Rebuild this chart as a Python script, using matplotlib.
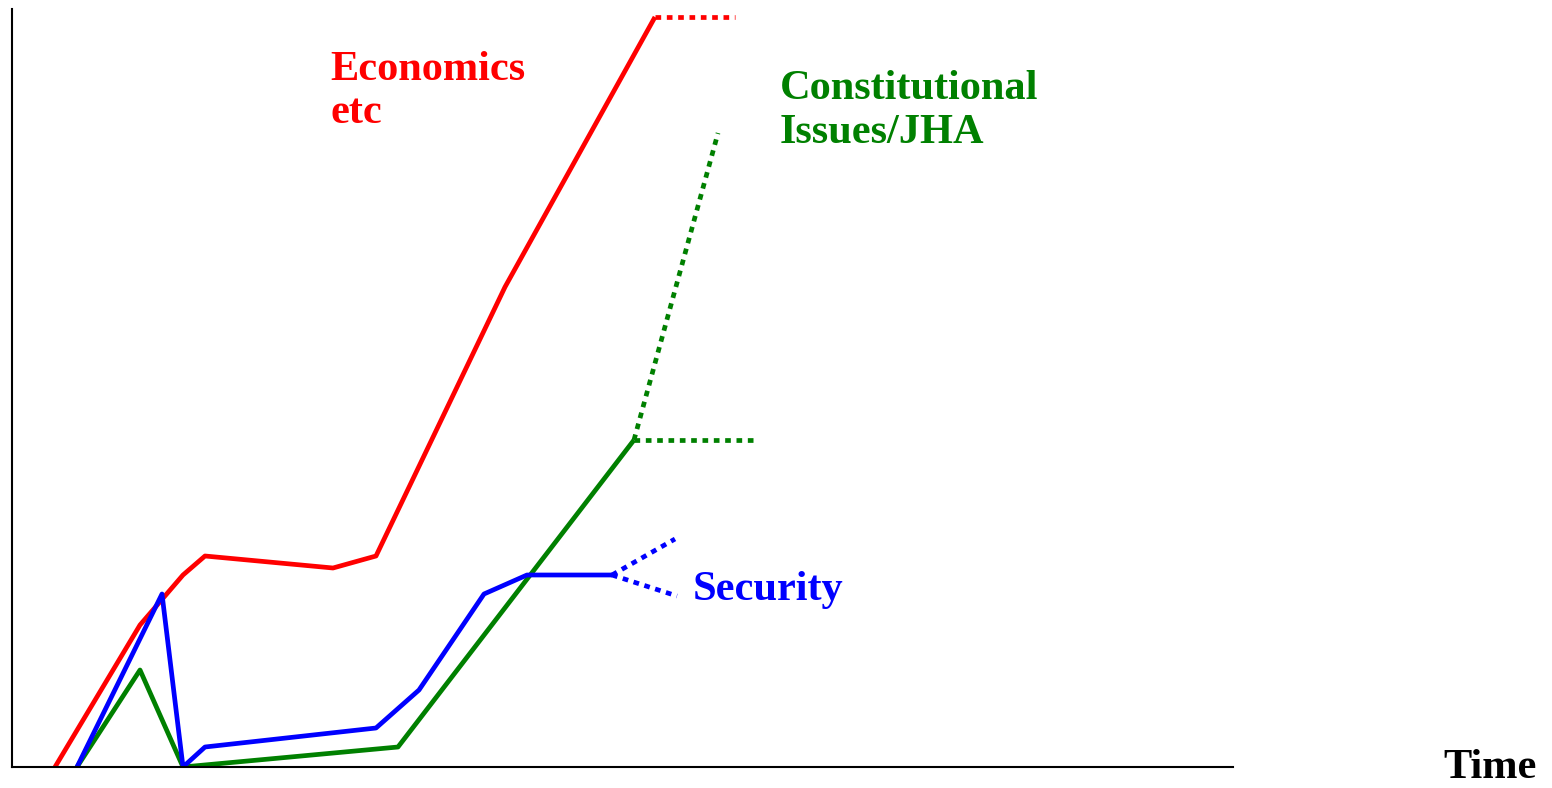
import matplotlib.pyplot as plt

# Values (x = time position, y = level)
econ_x = [43, 128, 171, 193, 321, 364, 493, 643]
econ_y = [0, 142, 192, 211, 199, 211, 480, 750]
econ_proj_x = [643, 723]
econ_proj_y = [750, 750]

sec_x = [65, 150, 171, 193, 364, 407, 472, 515, 600]
sec_y = [0, 173, 0, 20, 39, 77, 173, 192, 192]
sec_up_x = [600, 663]
sec_up_y = [192, 228]
sec_down_x = [600, 665]
sec_down_y = [192, 171]

con_x = [65, 128, 171, 386, 622]
con_y = [0, 97, 0, 20, 327]
con_up_x = [622, 706]
con_up_y = [327, 634]
con_flat_x = [622, 745]
con_flat_y = [327, 327]

W, H = 1552, 788
fig = plt.figure(figsize=(W / 100, H / 100), dpi=100)
ax = fig.add_axes([12 / W, 21 / H, 1221 / W, 758 / H])
ax.set_xlim(0, 1221)
ax.set_ylim(0, 758)

lw = 3.4
dots = (1.2, 1.2)

ax.plot(econ_x, econ_y, color='#ff0000', lw=lw, solid_capstyle='butt')
ax.plot(econ_proj_x, econ_proj_y, color='#ff0000', lw=lw, dashes=dots, dash_capstyle='butt')

ax.plot(con_x, con_y, color='#008000', lw=lw, solid_capstyle='butt')
ax.plot(con_up_x, con_up_y, color='#008000', lw=lw, dashes=dots, dash_capstyle='butt')
ax.plot(con_flat_x, con_flat_y, color='#008000', lw=lw, dashes=dots, dash_capstyle='butt')

ax.plot(sec_x, sec_y, color='#0000ff', lw=lw, solid_capstyle='butt')
ax.plot(sec_up_x, sec_up_y, color='#0000ff', lw=lw, dashes=dots, dash_capstyle='butt')
ax.plot(sec_down_x, sec_down_y, color='#0000ff', lw=lw, dashes=dots, dash_capstyle='butt')

for s in ['top', 'right']:
    ax.spines[s].set_visible(False)
for s in ['left', 'bottom']:
    ax.spines[s].set_linewidth(1.5)
    ax.spines[s].set_color('black')
ax.set_xticks([])
ax.set_yticks([])

font = dict(family='Liberation Serif', fontweight='bold', fontsize=30.5, va='baseline', ha='left')


def label(x, y, s, c):
    # x, y are pixel positions of the text baseline start
    fig.text(x / W, 1 - y / H, s, color=c, **font)


label(330, 80, 'Economics', '#ff0000')
label(330, 123, 'etc', '#ff0000')
label(780, 99, 'Constitutional', '#008000')
label(780, 143, 'Issues/JHA', '#008000')
label(693, 600, 'Security', '#0000ff')
label(1443, 778, 'Time', 'black')

fig.savefig('out.png', dpi=100)
